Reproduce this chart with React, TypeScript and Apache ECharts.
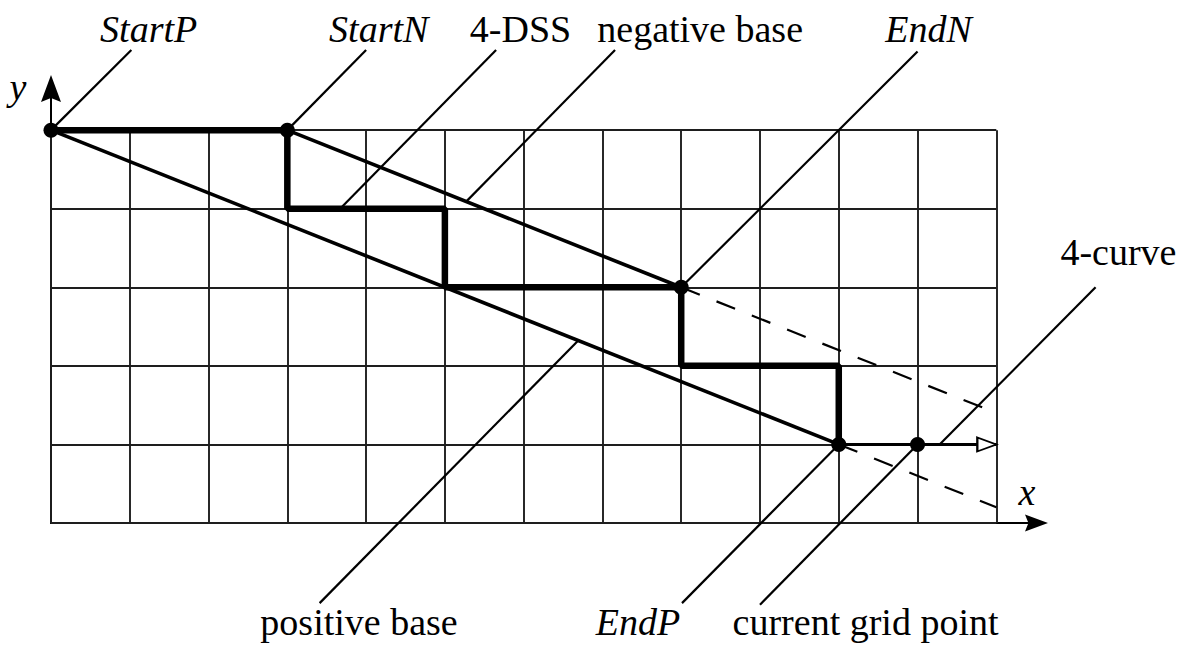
import React, { useEffect, useRef } from "react";
import * as echarts from "echarts";

// ---- diagram data (grid units) ----
const GRID_COLS = 12;
const GRID_ROWS = 5;
const X_MAX = 12.51;
const Y_MAX = 5.53;

const dssPath = [[0, 5], [3, 5], [3, 4], [5, 4], [5, 3], [8, 3], [8, 2], [10, 2], [10, 1]];
const positiveBase = [[0, 5], [10, 1]];
const positiveBaseExt = [[10, 1], [12, 0.2]];
const negativeBase = [[3, 5], [8, 3]];
const negativeBaseExt = [[8, 3], [12, 1.4]];
const curvePath = [[10, 1], [12, 1]];
const curveHead = [[12, 1]];
const keyPoints = [[0, 5], [3, 5], [8, 3], [10, 1], [11, 1]];

const leaders = [
  [[0, 5], [1.02, 6.02]],
  [[3, 5], [4.0, 6.02]],
  [[3.67, 4], [5.65, 6.02]],
  [[5.27, 4.09], [7.16, 6.02]],
  [[8, 3], [11.0, 6.0]],
  [[11.28, 1], [13.26, 3.0]],
  [[6.69, 2.32], [3.41, -1.02]],
  [[10, 1], [8.01, -1.02]],
  [[11, 1], [9.0, -1.04]],
];

const labelTexts = [
  "StartP", "StartN", "4-DSS", "negative base", "EndN", "4-curve",
  "positive base", "EndP", "current grid point", "y", "x",
];
const labelAnchors = [
  [1.24, 6.285], [4.16, 6.285], [5.96, 6.285], [8.24, 6.285], [11.14, 6.285],
  [13.55, 3.45], [3.91, -1.26], [7.45, -1.26], [10.34, -1.26], [-0.42, 5.55], [12.39, 0.39],
];
const italicLabels = ["StartP", "StartN", "EndN", "EndP", "y", "x"];

const FONT = "'Liberation Serif', 'Times New Roman', serif";
const ARROW = "path://M10,0L20,27L10,23L0,27Z";

export default function App() {
  const ref = useRef<HTMLDivElement>(null);

  useEffect(() => {
    if (!ref.current) return;
    const chart = echarts.init(ref.current, undefined, { renderer: "svg" });

    const gridSegments: any[] = [];
    for (let c = 0; c <= GRID_COLS; c++) gridSegments.push({ coords: [[c, 0], [c, GRID_ROWS]] });
    for (let r = 0; r <= GRID_ROWS; r++) gridSegments.push({ coords: [[0, r], [GRID_COLS, r]] });

    const lineSeries = (data: number[][], width: number, z: number, dashed = false) => ({
      type: "line",
      data,
      symbol: "none",
      clip: false,
      silent: true,
      z,
      lineStyle: { color: "#000", width, opacity: 1, type: dashed ? [20, 18] : "solid" },
    });

    chart.setOption({
      animation: false,
      backgroundColor: "#fff",
      grid: { left: 51, right: 1191 - 1036.5, top: 88.5, bottom: 646 - 523 },
      xAxis: {
        type: "value",
        min: 0,
        max: X_MAX,
        axisLabel: { show: false },
        axisTick: { show: false },
        splitLine: { show: false },
        axisLine: {
          show: true,
          symbol: ["none", ARROW],
          symbolSize: [18, 23],
          lineStyle: { color: "#000", width: 2 },
        },
      },
      yAxis: {
        type: "value",
        min: 0,
        max: Y_MAX,
        axisLabel: { show: false },
        axisTick: { show: false },
        splitLine: { show: false },
        axisLine: {
          show: true,
          symbol: ["none", ARROW],
          symbolSize: [20, 27],
          lineStyle: { color: "#000", width: 2 },
        },
      },
      series: [
        {
          type: "lines",
          coordinateSystem: "cartesian2d",
          data: gridSegments,
          clip: false,
          silent: true,
          z: 1,
          lineStyle: { color: "#1e1e1e", width: 1.9, opacity: 1 },
        },
        {
          type: "lines",
          coordinateSystem: "cartesian2d",
          data: leaders.map((l) => ({ coords: l })),
          clip: false,
          silent: true,
          z: 2,
          lineStyle: { color: "#000", width: 2.2, opacity: 1 },
        },
        lineSeries(positiveBase, 3.6, 3),
        lineSeries(negativeBase, 3.6, 3),
        lineSeries(positiveBaseExt, 2.2, 3, true),
        lineSeries(negativeBaseExt, 2.2, 3, true),
        lineSeries(curvePath, 3, 3),
        lineSeries(dssPath, 6.5, 4),
        {
          type: "scatter",
          data: keyPoints,
          symbol: "circle",
          symbolSize: 15,
          clip: false,
          silent: true,
          z: 5,
          itemStyle: { color: "#000", opacity: 1 },
        },
        {
          type: "scatter",
          data: curveHead,
          symbol: "path://M0,0L20,7L0,14Z",
          symbolSize: [19, 14],
          symbolOffset: [-9.5, 0],
          clip: false,
          silent: true,
          z: 5,
          itemStyle: { color: "#fff", borderColor: "#000", borderWidth: 2, opacity: 1 },
        },
        {
          type: "scatter",
          symbolSize: 0,
          clip: false,
          silent: true,
          z: 6,
          itemStyle: { opacity: 1 },
          data: labelTexts.map((t, i) => ({
            name: t,
            value: labelAnchors[i],
            label: { fontStyle: italicLabels.includes(t) ? "italic" : "normal" },
          })),
          label: {
            show: true,
            position: "inside",
            formatter: "{b}",
            color: "#000",
            opacity: 1,
            fontFamily: FONT,
            fontSize: 38,
          },
        },
      ],
    });

    return () => chart.dispose();
  }, []);

  return (
    <div
      ref={ref}
      style={{ position: "fixed", left: 0, top: 0, width: 1191, height: 646 }}
    />
  );
}
